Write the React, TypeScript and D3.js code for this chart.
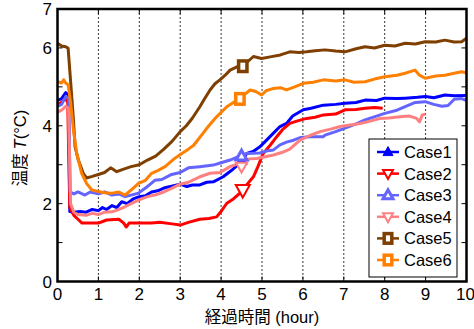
import React from "react";
import * as d3 from "d3";

const xTicks = [0, 1, 2, 3, 4, 5, 6, 7, 8, 9, 10];
const yTickLabels = [0, 2, 4, 6, 7];
const yTicks = [0, 1, 2, 3, 4, 5, 6, 7];
const caseNames = ["Case1", "Case2", "Case3", "Case4", "Case5", "Case6"];
const caseColors = ["#0000ff", "#ff0000", "#6464ff", "#ff8080", "#7f3f00", "#ff8000"];
const caseMarkers = ["triUp", "triDownOpen", "triUpOpen", "triDownOpen", "square", "square"];

const case1: [number, number][] = [[0,4.65],[0.1,4.7],[0.2,4.85],[0.27,4.8],[0.3,1.8],[0.4,1.78],[0.55,1.8],[0.7,1.78],[0.85,1.85],[1.0,1.82],[1.1,1.9],[1.2,1.85],[1.33,1.95],[1.45,1.9],[1.57,2.05],[1.7,2.0],[1.85,2.12],[2.0,2.18],[2.15,2.2],[2.3,2.3],[2.45,2.33],[2.6,2.4],[2.79,2.45],[3.0,2.5],[3.16,2.44],[3.3,2.48],[3.48,2.48],[3.65,2.55],[3.81,2.56],[4.05,2.69],[4.25,2.85],[4.46,3.04],[4.63,3.29],[4.8,3.35],[4.95,3.46],[5.1,3.62],[5.28,3.81],[5.44,3.98],[5.6,4.06],[5.75,4.25],[6.01,4.41],[6.2,4.45],[6.5,4.53],[6.8,4.55],[7.03,4.58],[7.3,4.6],[7.52,4.66],[7.8,4.65],[8.0,4.71],[8.3,4.7],[8.5,4.71],[8.8,4.73],[9.0,4.75],[9.2,4.72],[9.47,4.79],[9.7,4.77],[10,4.78]];
const case2: [number, number][] = [[0,4.55],[0.1,4.6],[0.2,4.7],[0.25,4.6],[0.3,1.9],[0.4,1.7],[0.5,1.6],[0.6,1.5],[0.8,1.5],[1.0,1.5],[1.2,1.58],[1.5,1.6],[1.62,1.5],[1.68,1.4],[1.75,1.5],[2.0,1.5],[2.3,1.5],[2.5,1.52],[2.8,1.48],[3.0,1.45],[3.2,1.52],[3.48,1.6],[3.7,1.62],[3.89,1.66],[4.0,1.8],[4.14,2.01],[4.3,2.12],[4.46,2.27],[4.6,2.45],[4.79,2.69],[4.9,2.95],[5.03,3.29],[5.2,3.5],[5.36,3.72],[5.5,3.9],[5.68,4.06],[5.85,4.12],[6.09,4.19],[6.3,4.22],[6.5,4.28],[6.8,4.3],[7.03,4.41],[7.3,4.42],[7.52,4.45],[7.75,4.47],[7.95,4.45]];
const case3: [number, number][] = [[0,4.5],[0.1,4.55],[0.2,4.75],[0.27,4.7],[0.31,2.3],[0.4,2.25],[0.5,2.3],[0.67,2.22],[0.8,2.3],[1.0,2.25],[1.15,2.3],[1.33,2.22],[1.5,2.25],[1.65,2.18],[1.8,2.22],[1.98,2.27],[2.15,2.4],[2.38,2.6],[2.55,2.62],[2.79,2.75],[3.0,2.8],[3.2,2.92],[3.48,2.95],[3.81,2.99],[4.0,3.05],[4.22,3.12],[4.45,3.22],[4.63,3.29],[4.95,3.3],[5.1,3.35],[5.28,3.38],[5.44,3.51],[5.6,3.58],[5.77,3.63],[5.95,3.7],[6.17,3.72],[6.5,3.72],[6.54,3.76],[6.8,3.85],[7.03,3.94],[7.3,4.05],[7.52,4.15],[7.8,4.25],[8.0,4.32],[8.3,4.4],[8.5,4.49],[8.75,4.6],[8.99,4.62],[9.2,4.55],[9.4,4.5],[9.55,4.52],[9.7,4.68],[9.88,4.7],[10,4.65]];
const case4: [number, number][] = [[0,4.35],[0.1,4.4],[0.2,4.5],[0.27,4.45],[0.32,2.0],[0.4,1.78],[0.5,1.72],[0.7,1.7],[0.85,1.75],[1.0,1.72],[1.15,1.78],[1.33,1.79],[1.5,1.85],[1.65,1.92],[1.8,2.0],[1.98,2.09],[2.2,2.18],[2.38,2.22],[2.6,2.3],[2.79,2.39],[3.0,2.5],[3.2,2.55],[3.48,2.69],[3.73,2.78],[3.97,2.8],[4.22,2.95],[4.46,3.04],[4.7,3.15],[4.87,3.16],[5.05,3.2],[5.28,3.25],[5.5,3.32],[5.68,3.4],[5.93,3.63],[6.17,3.75],[6.42,3.85],[6.7,3.92],[6.91,3.98],[7.15,4.02],[7.4,4.06],[7.65,4.12],[7.89,4.19],[8.1,4.2],[8.37,4.23],[8.6,4.25],[8.78,4.19],[8.85,4.1],[8.92,4.28],[9.0,4.3]];
const case5: [number, number][] = [[0,6.12],[0.1,6.05],[0.2,6.03],[0.26,5.99],[0.3,5.43],[0.39,4.15],[0.43,3.46],[0.51,3.12],[0.63,2.78],[0.71,2.66],[0.85,2.7],[1.0,2.75],[1.15,2.8],[1.3,2.92],[1.45,2.82],[1.6,2.88],[1.8,2.95],[2.0,3.0],[2.2,3.12],[2.4,3.22],[2.6,3.4],[2.8,3.6],[3.0,3.85],[3.15,4.0],[3.3,4.2],[3.48,4.49],[3.6,4.7],[3.73,4.92],[3.85,5.08],[3.97,5.18],[4.1,5.3],[4.22,5.43],[4.4,5.52],[4.6,5.6],[4.79,5.78],[4.99,5.73],[5.2,5.77],[5.45,5.82],[5.68,5.9],[5.9,5.88],[6.09,5.9],[6.3,5.93],[6.54,5.95],[6.8,5.92],[7.03,5.9],[7.3,5.98],[7.52,6.03],[7.75,6.0],[8.0,6.07],[8.25,6.05],[8.5,6.12],[8.75,6.1],[8.99,6.16],[9.25,6.15],[9.47,6.2],[9.7,6.15],[9.88,6.16],[10,6.25]];
const case6: [number, number][] = [[0,5.13],[0.1,5.1],[0.15,5.18],[0.2,5.1],[0.26,5.05],[0.32,4.6],[0.39,3.89],[0.47,3.29],[0.59,2.78],[0.71,2.52],[0.84,2.35],[1.0,2.31],[1.15,2.28],[1.33,2.27],[1.5,2.3],[1.65,2.22],[1.8,2.35],[1.98,2.52],[2.15,2.6],[2.3,2.78],[2.45,2.85],[2.63,2.95],[2.85,3.15],[3.04,3.29],[3.2,3.4],[3.33,3.5],[3.56,3.81],[3.7,4.0],[3.89,4.23],[4.14,4.49],[4.3,4.6],[4.46,4.71],[4.71,4.92],[4.85,4.88],[4.99,4.79],[5.1,4.9],[5.28,4.96],[5.45,4.98],[5.6,4.92],[5.8,5.0],[6.01,5.09],[6.25,5.12],[6.5,5.18],[6.8,5.15],[7.03,5.18],[7.25,5.12],[7.52,5.13],[7.75,5.2],[8.0,5.26],[8.3,5.3],[8.5,5.35],[8.74,5.43],[8.85,5.3],[8.99,5.22],[9.25,5.28],[9.47,5.3],[9.7,5.35],[9.88,5.39],[10,5.36]];
const caseSeries = [case1, case2, case3, case4, case5, case6];
const markerT = [4.5, 4.53, 4.5, 4.5, 4.53, 4.46];
const markerV = [3.1, 2.35, 3.22, 2.95, 5.53, 4.69];

const W = 474, H = 329;
const M = { left: 57.5, right: 466.5, top: 9, bottom: 281.5 };
const FONT = "'Liberation Sans', Arial, sans-serif";

function Marker({ kind, color, x, y, s }: { kind: string; color: string; x: number; y: number; s: number }) {
  const h = s * 0.9;
  if (kind === "triUp") {
    return <path d={`M${x},${y - h * 0.6} L${x + s / 2},${y + h * 0.4} L${x - s / 2},${y + h * 0.4} Z`} fill={color} stroke={color} strokeWidth={1} />;
  }
  if (kind === "triUpOpen") {
    return <path d={`M${x},${y - h * 0.6} L${x + s / 2},${y + h * 0.4} L${x - s / 2},${y + h * 0.4} Z`} fill="#fff" stroke={color} strokeWidth={3} />;
  }
  if (kind === "triDownOpen") {
    return <path d={`M${x},${y + h * 0.6} L${x + s / 2},${y - h * 0.4} L${x - s / 2},${y - h * 0.4} Z`} fill="#fff" stroke={color} strokeWidth={2} />;
  }
  return <rect x={x - s * 0.38} y={y - s * 0.48} width={s * 0.76} height={s * 0.96} fill="#fff" stroke={color} strokeWidth={3.5} />;
}

export default function App() {
  const x = d3.scaleLinear().domain([0, 10]).range([M.left, M.right]);
  const y = d3.scaleLinear().domain([0, 7]).range([M.bottom, M.top]);
  const line = d3.line<[number, number]>().x((d) => x(d[0])).y((d) => y(d[1]));
  const legX = 369, legY = 139, legW = 88, legH = 138;
  return (
    <svg width={W} height={H} style={{ position: "absolute", left: 0, top: 0, background: "#fff" }} fontFamily={FONT}>
      <rect x={0} y={0} width={W} height={H} fill="#fff" />
      {xTicks.slice(1, -1).map((t) => (
        <line key={"g" + t} x1={x(t)} x2={x(t)} y1={M.top} y2={M.bottom} stroke="#000" strokeWidth={0.8} strokeDasharray="2,2" />
      ))}
      {caseSeries.map((s, i) => (
        <path key={"l" + i} d={line(s) || ""} fill="none" stroke={caseColors[i]} strokeWidth={3} strokeLinejoin="round" />
      ))}
      {caseSeries.map((s, i) => (
        <Marker key={"m" + i} kind={caseMarkers[i]} color={caseColors[i]} x={x(markerT[i])} y={y(markerV[i])} s={i === 1 ? 14 : 11} />
      ))}
      {yTicks.map((t) => (
        <g key={"yt" + t}>
          <line x1={M.left} x2={M.left + 5} y1={y(t)} y2={y(t)} stroke="#000" strokeWidth={1} />
          <line x1={M.right - 5} x2={M.right} y1={y(t)} y2={y(t)} stroke="#000" strokeWidth={1} />
        </g>
      ))}
      {xTicks.map((t) => (
        <g key={"xt" + t}>
          <line x1={x(t)} x2={x(t)} y1={M.bottom} y2={M.bottom - 5} stroke="#000" strokeWidth={1} />
          <line x1={x(t)} x2={x(t)} y1={M.top} y2={M.top + 5} stroke="#000" strokeWidth={1} />
        </g>
      ))}
      <rect x={legX} y={legY} width={legW} height={legH} fill="#fff" stroke="#000" strokeWidth={1} />
      {caseNames.map((n, i) => {
        const cy = 152 + i * 21.6;
        return (
          <g key={"lg" + i}>
            <line x1={377} x2={399} y1={cy} y2={cy} stroke={caseColors[i]} strokeWidth={2.5} />
            <Marker kind={caseMarkers[i]} color={caseColors[i]} x={388} y={cy} s={10} />
            <text x={404} y={cy + 6} fontSize={16.5} fill="#000">{n}</text>
          </g>
        );
      })}
      <rect x={M.left} y={M.top} width={M.right - M.left} height={M.bottom - M.top} fill="none" stroke="#000" strokeWidth={2.5} />
      {yTickLabels.map((t) => (
        <text key={"yl" + t} x={52} y={y(t) + 6} fontSize={17} textAnchor="end" fill="#000">{t}</text>
      ))}
      {xTicks.map((t) => (
        <text key={"xl" + t} x={t === 10 ? x(t) - 1 : x(t)} y={299.5} fontSize={17} textAnchor="middle" fill="#000">{t}</text>
      ))}
      <text x={(M.left + M.right) / 2} y={323} fontSize={16.5} textAnchor="middle" fill="#000">
        <tspan fontFamily="'Noto Sans CJK JP', sans-serif">経過時間</tspan>
        <tspan> (hour)</tspan>
      </text>
      <text transform="translate(26,148) rotate(-90)" fontSize={16.5} textAnchor="middle" fill="#000">
        <tspan fontFamily="'Noto Sans CJK JP', sans-serif">温度 </tspan>
        <tspan fontStyle="italic">T</tspan>
        <tspan>(°C)</tspan>
      </text>
    </svg>
  );
}
